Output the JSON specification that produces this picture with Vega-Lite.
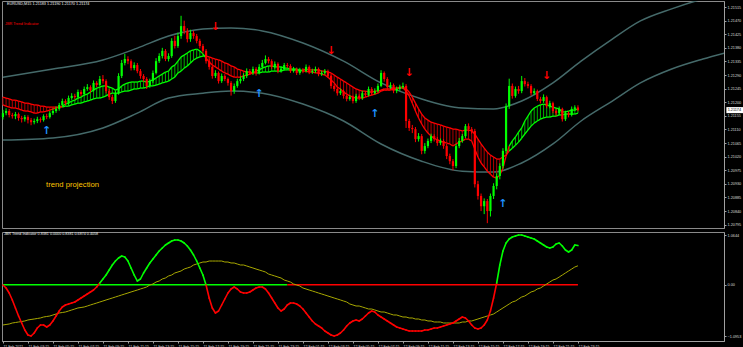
{
"$schema":"https://vega.github.io/schema/vega-lite/v6.json",
"background":"#000000",
"padding":0,
"spacing":2,
"config":{
 "view":{"stroke":"#8a8a8a","strokeWidth":1},
 "axis":{"grid":false,"labelColor":"#d8d8d8","labelFont":"Liberation Sans","labelFontSize":3.8,"labelOverlap":false,"labelFlush":false,"labelBound":false,"tickColor":"#a0a0a0","tickSize":2,"labelPadding":1,"domainColor":"#a0a0a0","domainWidth":1},
 "text":{"font":"Liberation Sans"}
},
"datasets":{
"bars":[
{"i":0,"o":1.21151,"h":1.21175,"l":1.21143,"c":1.21164,"a":1.21191,"b":1.21217,"v":-0.0047,"s":-0.86,"u":0},
{"i":1,"o":1.21164,"h":1.2118,"l":1.21157,"c":1.21171,"a":1.21187,"b":1.21214,"v":-0.0689,"s":-0.849,"u":0},
{"i":2,"o":1.21171,"h":1.21178,"l":1.2115,"c":1.21158,"a":1.21184,"b":1.21211,"v":-0.1758,"s":-0.839,"u":0},
{"i":3,"o":1.21158,"h":1.21165,"l":1.21146,"c":1.21154,"a":1.21181,"b":1.21207,"v":-0.3254,"s":-0.817,"u":0},
{"i":4,"o":1.21154,"h":1.21168,"l":1.21144,"c":1.21161,"a":1.21181,"b":1.21207,"v":-0.4965,"s":-0.807,"u":0},
{"i":5,"o":1.21161,"h":1.21166,"l":1.21139,"c":1.21148,"a":1.21178,"b":1.21204,"v":-0.6676,"s":-0.796,"u":0},
{"i":6,"o":1.21148,"h":1.21155,"l":1.21133,"c":1.21144,"a":1.21174,"b":1.21201,"v":-0.8173,"s":-0.785,"u":0},
{"i":7,"o":1.21144,"h":1.21158,"l":1.21136,"c":1.21151,"a":1.21171,"b":1.21197,"v":-0.9669,"s":-0.774,"u":0},
{"i":8,"o":1.21151,"h":1.21157,"l":1.2113,"c":1.21141,"a":1.21171,"b":1.21197,"v":-1.0739,"s":-0.753,"u":0},
{"i":9,"o":1.21141,"h":1.21148,"l":1.21124,"c":1.21134,"a":1.21168,"b":1.21194,"v":-1.0953,"s":-0.742,"u":0},
{"i":10,"o":1.21134,"h":1.21146,"l":1.21127,"c":1.21138,"a":1.21164,"b":1.21191,"v":-1.0311,"s":-0.732,"u":0},
{"i":11,"o":1.21138,"h":1.21152,"l":1.21131,"c":1.21144,"a":1.21164,"b":1.21191,"v":-0.9242,"s":-0.721,"u":0},
{"i":12,"o":1.21144,"h":1.2115,"l":1.21133,"c":1.21141,"a":1.21168,"b":1.21187,"v":-0.86,"s":-0.71,"u":0},
{"i":13,"o":1.21141,"h":1.2116,"l":1.21136,"c":1.21154,"a":1.21168,"b":1.21187,"v":-0.86,"s":-0.689,"u":0},
{"i":14,"o":1.21154,"h":1.21162,"l":1.21144,"c":1.21151,"a":1.21171,"b":1.21184,"v":-0.9028,"s":-0.678,"u":0},
{"i":15,"o":1.21151,"h":1.21171,"l":1.21146,"c":1.21164,"a":1.21174,"b":1.21184,"v":-0.86,"s":-0.668,"u":0},
{"i":16,"o":1.21164,"h":1.21179,"l":1.21158,"c":1.21171,"a":1.21178,"b":1.21184,"v":-0.7745,"s":-0.646,"u":0},
{"i":17,"o":1.21171,"h":1.21186,"l":1.21165,"c":1.21178,"a":1.21181,"b":1.21184,"v":-0.6676,"s":-0.625,"u":0},
{"i":18,"o":1.21178,"h":1.21198,"l":1.21172,"c":1.21191,"a":1.21184,"b":1.21184,"v":-0.5607,"s":-0.603,"u":0},
{"i":19,"o":1.21191,"h":1.21212,"l":1.21185,"c":1.21204,"a":1.21187,"b":1.21184,"v":-0.4751,"s":-0.593,"u":0},
{"i":20,"o":1.21204,"h":1.2121,"l":1.2119,"c":1.21197,"a":1.21194,"b":1.21187,"v":-0.4324,"s":-0.582,"u":0},
{"i":21,"o":1.21197,"h":1.21222,"l":1.21192,"c":1.21214,"a":1.21197,"b":1.21187,"v":-0.411,"s":-0.561,"u":0},
{"i":22,"o":1.21214,"h":1.2123,"l":1.21208,"c":1.21221,"a":1.21204,"b":1.21191,"v":-0.3896,"s":-0.539,"u":0},
{"i":23,"o":1.21221,"h":1.21228,"l":1.2121,"c":1.21217,"a":1.21207,"b":1.21194,"v":-0.3682,"s":-0.518,"u":0},
{"i":24,"o":1.21217,"h":1.21242,"l":1.21212,"c":1.21234,"a":1.21214,"b":1.21197,"v":-0.3254,"s":-0.496,"u":0},
{"i":25,"o":1.21234,"h":1.2124,"l":1.2122,"c":1.21227,"a":1.21217,"b":1.21197,"v":-0.2827,"s":-0.486,"u":0},
{"i":26,"o":1.21227,"h":1.21252,"l":1.21222,"c":1.21244,"a":1.21224,"b":1.21201,"v":-0.2399,"s":-0.475,"u":0},
{"i":27,"o":1.21244,"h":1.2126,"l":1.21238,"c":1.2125,"a":1.21227,"b":1.21204,"v":-0.1972,"s":-0.454,"u":0},
{"i":28,"o":1.2125,"h":1.21256,"l":1.21232,"c":1.2124,"a":1.21234,"b":1.21207,"v":-0.1544,"s":-0.432,"u":0},
{"i":29,"o":1.2124,"h":1.21272,"l":1.21236,"c":1.21264,"a":1.2124,"b":1.21211,"v":-0.1116,"s":-0.411,"u":0},
{"i":30,"o":1.21264,"h":1.2127,"l":1.2125,"c":1.21257,"a":1.21247,"b":1.21214,"v":-0.0475,"s":-0.39,"u":0},
{"i":31,"o":1.21257,"h":1.21287,"l":1.21252,"c":1.21277,"a":1.2125,"b":1.21214,"v":0.0381,"s":-0.368,"u":1},
{"i":32,"o":1.21277,"h":1.2129,"l":1.21262,"c":1.2127,"a":1.21254,"b":1.21217,"v":0.1236,"s":-0.347,"u":1},
{"i":33,"o":1.2127,"h":1.21276,"l":1.2123,"c":1.21237,"a":1.21254,"b":1.21221,"v":0.2091,"s":-0.325,"u":1},
{"i":34,"o":1.21237,"h":1.21244,"l":1.21208,"c":1.21217,"a":1.2125,"b":1.21227,"v":0.316,"s":-0.304,"u":1},
{"i":35,"o":1.21217,"h":1.21225,"l":1.21194,"c":1.21204,"a":1.21247,"b":1.2123,"v":0.423,"s":-0.283,"u":1},
{"i":36,"o":1.21204,"h":1.21238,"l":1.21198,"c":1.2123,"a":1.2124,"b":1.2123,"v":0.5085,"s":-0.261,"u":1},
{"i":37,"o":1.2123,"h":1.21296,"l":1.21225,"c":1.21287,"a":1.21244,"b":1.2123,"v":0.5726,"s":-0.24,"u":1},
{"i":38,"o":1.21287,"h":1.2134,"l":1.2128,"c":1.2133,"a":1.21254,"b":1.21234,"v":0.6154,"s":-0.218,"u":1},
{"i":39,"o":1.2133,"h":1.2136,"l":1.21322,"c":1.21343,"a":1.2126,"b":1.21237,"v":0.594,"s":-0.197,"u":1},
{"i":40,"o":1.21343,"h":1.21352,"l":1.21326,"c":1.21336,"a":1.21264,"b":1.21237,"v":0.5085,"s":-0.176,"u":1},
{"i":41,"o":1.21336,"h":1.21342,"l":1.21305,"c":1.21313,"a":1.21267,"b":1.2124,"v":0.3588,"s":-0.154,"u":1},
{"i":42,"o":1.21313,"h":1.21332,"l":1.21306,"c":1.21323,"a":1.21267,"b":1.21244,"v":0.2091,"s":-0.133,"u":1},
{"i":43,"o":1.21323,"h":1.2133,"l":1.21296,"c":1.21303,"a":1.21267,"b":1.21244,"v":0.0808,"s":-0.112,"u":1},
{"i":44,"o":1.21303,"h":1.2131,"l":1.21278,"c":1.21287,"a":1.2127,"b":1.21247,"v":0.1236,"s":-0.09,"u":1},
{"i":45,"o":1.21287,"h":1.21293,"l":1.21268,"c":1.21277,"a":1.2127,"b":1.21247,"v":0.2519,"s":-0.069,"u":1},
{"i":46,"o":1.21277,"h":1.21283,"l":1.21244,"c":1.21254,"a":1.21267,"b":1.2125,"v":0.3588,"s":-0.047,"u":1},
{"i":47,"o":1.21254,"h":1.21278,"l":1.21248,"c":1.2127,"a":1.2127,"b":1.21254,"v":0.4657,"s":-0.005,"u":1},
{"i":48,"o":1.2127,"h":1.21305,"l":1.21264,"c":1.21297,"a":1.21274,"b":1.21254,"v":0.5512,"s":0.017,"u":1},
{"i":49,"o":1.21297,"h":1.21346,"l":1.21292,"c":1.21336,"a":1.2128,"b":1.21257,"v":0.6368,"s":0.059,"u":1},
{"i":50,"o":1.21336,"h":1.21362,"l":1.2133,"c":1.21353,"a":1.21287,"b":1.2126,"v":0.7223,"s":0.081,"u":1},
{"i":51,"o":1.21353,"h":1.2138,"l":1.21345,"c":1.2137,"a":1.21293,"b":1.21264,"v":0.7865,"s":0.124,"u":1},
{"i":52,"o":1.2137,"h":1.21376,"l":1.21336,"c":1.21343,"a":1.213,"b":1.21267,"v":0.8506,"s":0.145,"u":1},
{"i":53,"o":1.21343,"h":1.21362,"l":1.21335,"c":1.21353,"a":1.21303,"b":1.2127,"v":0.8934,"s":0.188,"u":1},
{"i":54,"o":1.21353,"h":1.21412,"l":1.21347,"c":1.21403,"a":1.21317,"b":1.21277,"v":0.9361,"s":0.209,"u":1},
{"i":55,"o":1.21403,"h":1.2142,"l":1.21378,"c":1.21386,"a":1.21323,"b":1.21283,"v":0.9575,"s":0.252,"u":1},
{"i":56,"o":1.21386,"h":1.2143,"l":1.2138,"c":1.21419,"a":1.21336,"b":1.21297,"v":0.9575,"s":0.273,"u":1},
{"i":57,"o":1.21419,"h":1.21486,"l":1.2141,"c":1.21452,"a":1.2135,"b":1.21303,"v":0.9361,"s":0.295,"u":1},
{"i":58,"o":1.21452,"h":1.2147,"l":1.21425,"c":1.21436,"a":1.21356,"b":1.21313,"v":0.8934,"s":0.337,"u":1},
{"i":59,"o":1.21436,"h":1.21445,"l":1.21398,"c":1.21409,"a":1.21363,"b":1.2132,"v":0.8292,"s":0.359,"u":1},
{"i":60,"o":1.21409,"h":1.2144,"l":1.214,"c":1.21429,"a":1.2137,"b":1.2133,"v":0.7437,"s":0.38,"u":1},
{"i":61,"o":1.21429,"h":1.21436,"l":1.2141,"c":1.21419,"a":1.21373,"b":1.2134,"v":0.6368,"s":0.423,"u":1},
{"i":62,"o":1.21419,"h":1.21426,"l":1.21395,"c":1.21403,"a":1.21376,"b":1.21346,"v":0.5085,"s":0.444,"u":1},
{"i":63,"o":1.21403,"h":1.2141,"l":1.21378,"c":1.21386,"a":1.2137,"b":1.2135,"v":0.3588,"s":0.466,"u":1},
{"i":64,"o":1.21386,"h":1.21393,"l":1.21362,"c":1.2137,"a":1.2136,"b":1.21353,"v":0.2091,"s":0.487,"u":1},
{"i":65,"o":1.2137,"h":1.21376,"l":1.21328,"c":1.21336,"a":1.21346,"b":1.21353,"v":-0.0047,"s":0.487,"u":0},
{"i":66,"o":1.21336,"h":1.21345,"l":1.21308,"c":1.21317,"a":1.21333,"b":1.2135,"v":-0.2827,"s":0.508,"u":0},
{"i":67,"o":1.21317,"h":1.21322,"l":1.21278,"c":1.21287,"a":1.21323,"b":1.21346,"v":-0.4965,"s":0.508,"u":0},
{"i":68,"o":1.21287,"h":1.21306,"l":1.2128,"c":1.21297,"a":1.21317,"b":1.21343,"v":-0.6034,"s":0.508,"u":0},
{"i":69,"o":1.21297,"h":1.21302,"l":1.21262,"c":1.2127,"a":1.2131,"b":1.2134,"v":-0.5607,"s":0.508,"u":0},
{"i":70,"o":1.2127,"h":1.21295,"l":1.21264,"c":1.21287,"a":1.21303,"b":1.21336,"v":-0.4324,"s":0.508,"u":0},
{"i":71,"o":1.21287,"h":1.21293,"l":1.2127,"c":1.21277,"a":1.21297,"b":1.2133,"v":-0.3041,"s":0.487,"u":0},
{"i":72,"o":1.21277,"h":1.21282,"l":1.21255,"c":1.21264,"a":1.21293,"b":1.21327,"v":-0.1758,"s":0.487,"u":0},
{"i":73,"o":1.21264,"h":1.2127,"l":1.21222,"c":1.21237,"a":1.21287,"b":1.2132,"v":-0.0902,"s":0.466,"u":0},
{"i":74,"o":1.21237,"h":1.21262,"l":1.21228,"c":1.21254,"a":1.21283,"b":1.21317,"v":-0.0475,"s":0.466,"u":0},
{"i":75,"o":1.21254,"h":1.21278,"l":1.21248,"c":1.2127,"a":1.21283,"b":1.2131,"v":-0.0902,"s":0.444,"u":0},
{"i":76,"o":1.2127,"h":1.21286,"l":1.21262,"c":1.21277,"a":1.21283,"b":1.21307,"v":-0.1544,"s":0.423,"u":0},
{"i":77,"o":1.21277,"h":1.21296,"l":1.2127,"c":1.21287,"a":1.21287,"b":1.21303,"v":-0.1758,"s":0.423,"u":0},
{"i":78,"o":1.21287,"h":1.21312,"l":1.2128,"c":1.21303,"a":1.2129,"b":1.213,"v":-0.1758,"s":0.402,"u":0},
{"i":79,"o":1.21303,"h":1.2131,"l":1.2129,"c":1.21297,"a":1.21293,"b":1.213,"v":-0.1544,"s":0.38,"u":0},
{"i":80,"o":1.21297,"h":1.21318,"l":1.2129,"c":1.2131,"a":1.21297,"b":1.21297,"v":-0.1116,"s":0.359,"u":0},
{"i":81,"o":1.2131,"h":1.21316,"l":1.21288,"c":1.21297,"a":1.21303,"b":1.21297,"v":-0.0689,"s":0.337,"u":0},
{"i":82,"o":1.21297,"h":1.21326,"l":1.21292,"c":1.21317,"a":1.21307,"b":1.21297,"v":-0.0475,"s":0.316,"u":0},
{"i":83,"o":1.21317,"h":1.2134,"l":1.21312,"c":1.2133,"a":1.21313,"b":1.213,"v":-0.0475,"s":0.295,"u":0},
{"i":84,"o":1.2133,"h":1.21355,"l":1.21325,"c":1.21343,"a":1.21317,"b":1.213,"v":-0.0902,"s":0.273,"u":0},
{"i":85,"o":1.21343,"h":1.2135,"l":1.21328,"c":1.21336,"a":1.2132,"b":1.213,"v":-0.1758,"s":0.23,"u":0},
{"i":86,"o":1.21336,"h":1.21342,"l":1.2131,"c":1.21317,"a":1.2132,"b":1.21303,"v":-0.2827,"s":0.209,"u":0},
{"i":87,"o":1.21317,"h":1.21335,"l":1.21311,"c":1.21327,"a":1.21317,"b":1.21303,"v":-0.3896,"s":0.188,"u":0},
{"i":88,"o":1.21327,"h":1.21332,"l":1.21296,"c":1.21303,"a":1.21317,"b":1.21303,"v":-0.4965,"s":0.166,"u":0},
{"i":89,"o":1.21303,"h":1.21318,"l":1.21298,"c":1.2131,"a":1.21317,"b":1.21303,"v":-0.5607,"s":0.145,"u":0},
{"i":90,"o":1.2131,"h":1.2133,"l":1.21305,"c":1.21323,"a":1.21313,"b":1.21307,"v":-0.5179,"s":0.102,"u":0},
{"i":91,"o":1.21323,"h":1.2133,"l":1.21313,"c":1.2132,"a":1.21313,"b":1.21307,"v":-0.4324,"s":0.081,"u":0},
{"i":92,"o":1.2132,"h":1.21326,"l":1.21297,"c":1.21303,"a":1.2131,"b":1.21307,"v":-0.3896,"s":0.059,"u":0},
{"i":93,"o":1.21303,"h":1.21317,"l":1.21298,"c":1.2131,"a":1.2131,"b":1.21307,"v":-0.3896,"s":0.017,"u":0},
{"i":94,"o":1.2131,"h":1.21315,"l":1.2129,"c":1.21297,"a":1.2131,"b":1.21307,"v":-0.411,"s":-0.005,"u":0},
{"i":95,"o":1.21297,"h":1.21314,"l":1.21291,"c":1.21307,"a":1.21307,"b":1.21303,"v":-0.4537,"s":-0.026,"u":0},
{"i":96,"o":1.21307,"h":1.21313,"l":1.21296,"c":1.21303,"a":1.21303,"b":1.21307,"v":-0.5179,"s":-0.069,"u":0},
{"i":97,"o":1.21303,"h":1.21325,"l":1.21298,"c":1.21317,"a":1.21303,"b":1.2131,"v":-0.6034,"s":-0.09,"u":0},
{"i":98,"o":1.21317,"h":1.21322,"l":1.21293,"c":1.213,"a":1.213,"b":1.21307,"v":-0.689,"s":-0.112,"u":0},
{"i":99,"o":1.213,"h":1.21311,"l":1.21294,"c":1.21303,"a":1.213,"b":1.21307,"v":-0.7745,"s":-0.133,"u":0},
{"i":100,"o":1.21303,"h":1.21318,"l":1.21297,"c":1.2131,"a":1.21297,"b":1.21307,"v":-0.8386,"s":-0.154,"u":0},
{"i":101,"o":1.2131,"h":1.21315,"l":1.21286,"c":1.21293,"a":1.21297,"b":1.21307,"v":-0.8814,"s":-0.176,"u":0},
{"i":102,"o":1.21293,"h":1.21305,"l":1.21287,"c":1.21297,"a":1.21293,"b":1.21303,"v":-0.9242,"s":-0.197,"u":0},
{"i":103,"o":1.21297,"h":1.2131,"l":1.21291,"c":1.21303,"a":1.2129,"b":1.21303,"v":-0.9883,"s":-0.218,"u":0},
{"i":104,"o":1.21303,"h":1.21308,"l":1.2128,"c":1.21287,"a":1.21283,"b":1.213,"v":-1.0311,"s":-0.24,"u":0},
{"i":105,"o":1.21287,"h":1.21292,"l":1.21245,"c":1.21254,"a":1.21274,"b":1.21297,"v":-1.0739,"s":-0.261,"u":0},
{"i":106,"o":1.21254,"h":1.2126,"l":1.21236,"c":1.21244,"a":1.21264,"b":1.2129,"v":-1.0953,"s":-0.283,"u":0},
{"i":107,"o":1.21244,"h":1.2125,"l":1.21222,"c":1.2123,"a":1.2125,"b":1.21283,"v":-1.0739,"s":-0.304,"u":0},
{"i":108,"o":1.2123,"h":1.21245,"l":1.21224,"c":1.21237,"a":1.21244,"b":1.21277,"v":-1.0311,"s":-0.325,"u":0},
{"i":109,"o":1.21237,"h":1.21242,"l":1.21212,"c":1.21221,"a":1.21234,"b":1.2127,"v":-0.9669,"s":-0.347,"u":0},
{"i":110,"o":1.21221,"h":1.21226,"l":1.21203,"c":1.21211,"a":1.21227,"b":1.21264,"v":-0.8814,"s":-0.368,"u":0},
{"i":111,"o":1.21211,"h":1.21224,"l":1.21205,"c":1.21217,"a":1.21221,"b":1.21257,"v":-0.8173,"s":-0.411,"u":0},
{"i":112,"o":1.21217,"h":1.21222,"l":1.21196,"c":1.21204,"a":1.21217,"b":1.2125,"v":-0.7745,"s":-0.432,"u":0},
{"i":113,"o":1.21204,"h":1.21228,"l":1.21198,"c":1.21221,"a":1.21214,"b":1.21244,"v":-0.7531,"s":-0.454,"u":0},
{"i":114,"o":1.21221,"h":1.21226,"l":1.21207,"c":1.21214,"a":1.21214,"b":1.2124,"v":-0.7745,"s":-0.454,"u":0},
{"i":115,"o":1.21214,"h":1.21238,"l":1.21208,"c":1.2123,"a":1.21214,"b":1.21237,"v":-0.7317,"s":-0.475,"u":0},
{"i":116,"o":1.2123,"h":1.21236,"l":1.21218,"c":1.21224,"a":1.21217,"b":1.21237,"v":-0.6676,"s":-0.496,"u":0},
{"i":117,"o":1.21224,"h":1.21252,"l":1.21219,"c":1.21244,"a":1.21221,"b":1.21234,"v":-0.6034,"s":-0.518,"u":0},
{"i":118,"o":1.21244,"h":1.2125,"l":1.21222,"c":1.2123,"a":1.21224,"b":1.21234,"v":-0.5607,"s":-0.518,"u":0},
{"i":119,"o":1.2123,"h":1.21246,"l":1.21225,"c":1.21237,"a":1.21227,"b":1.21237,"v":-0.582,"s":-0.539,"u":0},
{"i":120,"o":1.21237,"h":1.21262,"l":1.21232,"c":1.21254,"a":1.2123,"b":1.21237,"v":-0.6462,"s":-0.561,"u":0},
{"i":121,"o":1.21254,"h":1.21306,"l":1.2125,"c":1.21297,"a":1.21237,"b":1.2124,"v":-0.689,"s":-0.582,"u":0},
{"i":122,"o":1.21297,"h":1.21302,"l":1.21268,"c":1.21277,"a":1.2124,"b":1.21244,"v":-0.7317,"s":-0.582,"u":0},
{"i":123,"o":1.21277,"h":1.21283,"l":1.21242,"c":1.2125,"a":1.2124,"b":1.21244,"v":-0.7745,"s":-0.603,"u":0},
{"i":124,"o":1.2125,"h":1.21266,"l":1.21244,"c":1.21257,"a":1.2124,"b":1.21244,"v":-0.8173,"s":-0.625,"u":0},
{"i":125,"o":1.21257,"h":1.21262,"l":1.2123,"c":1.21237,"a":1.21244,"b":1.21247,"v":-0.86,"s":-0.646,"u":0},
{"i":126,"o":1.21237,"h":1.21252,"l":1.2123,"c":1.21244,"a":1.21244,"b":1.21247,"v":-0.9028,"s":-0.646,"u":0},
{"i":127,"o":1.21244,"h":1.21258,"l":1.21238,"c":1.2125,"a":1.21247,"b":1.2125,"v":-0.9242,"s":-0.668,"u":0},
{"i":128,"o":1.2125,"h":1.21265,"l":1.21244,"c":1.21254,"a":1.21247,"b":1.2125,"v":-0.9456,"s":-0.689,"u":0},
{"i":129,"o":1.21254,"h":1.2126,"l":1.21115,"c":1.21138,"a":1.21237,"b":1.21244,"v":-0.9669,"s":-0.689,"u":0},
{"i":130,"o":1.21138,"h":1.21145,"l":1.21105,"c":1.21115,"a":1.21221,"b":1.21234,"v":-0.9883,"s":-0.71,"u":0},
{"i":131,"o":1.21115,"h":1.21125,"l":1.21098,"c":1.21111,"a":1.21197,"b":1.21217,"v":-0.9883,"s":-0.71,"u":0},
{"i":132,"o":1.21111,"h":1.21118,"l":1.21068,"c":1.21078,"a":1.21171,"b":1.21197,"v":-0.9883,"s":-0.732,"u":0},
{"i":133,"o":1.21078,"h":1.21098,"l":1.2107,"c":1.21088,"a":1.21148,"b":1.21178,"v":-0.9883,"s":-0.732,"u":0},
{"i":134,"o":1.21088,"h":1.21095,"l":1.21028,"c":1.21039,"a":1.21128,"b":1.21161,"v":-0.9883,"s":-0.753,"u":0},
{"i":135,"o":1.21039,"h":1.21065,"l":1.2103,"c":1.21055,"a":1.21111,"b":1.21148,"v":-0.9669,"s":-0.753,"u":0},
{"i":136,"o":1.21055,"h":1.2108,"l":1.21048,"c":1.21072,"a":1.21098,"b":1.21141,"v":-0.9669,"s":-0.774,"u":0},
{"i":137,"o":1.21072,"h":1.21096,"l":1.21065,"c":1.21088,"a":1.21088,"b":1.21134,"v":-0.9456,"s":-0.774,"u":0},
{"i":138,"o":1.21088,"h":1.21094,"l":1.2107,"c":1.21078,"a":1.21081,"b":1.21131,"v":-0.9242,"s":-0.796,"u":0},
{"i":139,"o":1.21078,"h":1.21085,"l":1.21056,"c":1.21065,"a":1.21075,"b":1.21128,"v":-0.9242,"s":-0.796,"u":0},
{"i":140,"o":1.21065,"h":1.2108,"l":1.21058,"c":1.21072,"a":1.21072,"b":1.21125,"v":-0.9028,"s":-0.796,"u":0},
{"i":141,"o":1.21072,"h":1.21078,"l":1.21046,"c":1.21055,"a":1.21068,"b":1.21121,"v":-0.8814,"s":-0.817,"u":0},
{"i":142,"o":1.21055,"h":1.21062,"l":1.21012,"c":1.21022,"a":1.21065,"b":1.21118,"v":-0.86,"s":-0.817,"u":0},
{"i":143,"o":1.21022,"h":1.2103,"l":1.20995,"c":1.21005,"a":1.21062,"b":1.21115,"v":-0.8386,"s":-0.817,"u":0},
{"i":144,"o":1.21005,"h":1.21012,"l":1.20975,"c":1.20989,"a":1.21055,"b":1.21111,"v":-0.8173,"s":-0.817,"u":0},
{"i":145,"o":1.20989,"h":1.21062,"l":1.20982,"c":1.21055,"a":1.21062,"b":1.21111,"v":-0.7745,"s":-0.817,"u":0},
{"i":146,"o":1.21055,"h":1.21082,"l":1.21048,"c":1.21072,"a":1.21068,"b":1.21108,"v":-0.7317,"s":-0.817,"u":0},
{"i":147,"o":1.21072,"h":1.21095,"l":1.21066,"c":1.21088,"a":1.21072,"b":1.21105,"v":-0.689,"s":-0.796,"u":0},
{"i":148,"o":1.21088,"h":1.21128,"l":1.21082,"c":1.21121,"a":1.21078,"b":1.21108,"v":-0.7103,"s":-0.796,"u":0},
{"i":149,"o":1.21121,"h":1.2113,"l":1.21103,"c":1.21111,"a":1.21078,"b":1.21108,"v":-0.7745,"s":-0.774,"u":0},
{"i":150,"o":1.21111,"h":1.21118,"l":1.21096,"c":1.21105,"a":1.21072,"b":1.21105,"v":-0.86,"s":-0.774,"u":0},
{"i":151,"o":1.21105,"h":1.21112,"l":1.20918,"c":1.20929,"a":1.21045,"b":1.21095,"v":-0.9242,"s":-0.753,"u":0},
{"i":152,"o":1.20929,"h":1.2094,"l":1.20878,"c":1.2089,"a":1.21019,"b":1.21078,"v":-0.9456,"s":-0.732,"u":0},
{"i":153,"o":1.2089,"h":1.20898,"l":1.2084,"c":1.20856,"a":1.20999,"b":1.21062,"v":-0.9242,"s":-0.71,"u":0},
{"i":154,"o":1.20856,"h":1.20882,"l":1.2083,"c":1.20873,"a":1.20986,"b":1.21048,"v":-0.86,"s":-0.689,"u":0},
{"i":155,"o":1.20873,"h":1.2088,"l":1.208,"c":1.2084,"a":1.20972,"b":1.21035,"v":-0.7531,"s":-0.668,"u":0},
{"i":156,"o":1.2084,"h":1.20898,"l":1.20822,"c":1.2089,"a":1.20962,"b":1.21025,"v":-0.5607,"s":-0.646,"u":0},
{"i":157,"o":1.2089,"h":1.20932,"l":1.2088,"c":1.20923,"a":1.20952,"b":1.21019,"v":-0.2827,"s":-0.625,"u":0},
{"i":158,"o":1.20923,"h":1.20965,"l":1.20912,"c":1.20956,"a":1.20949,"b":1.21012,"v":0.0381,"s":-0.582,"u":1},
{"i":159,"o":1.20956,"h":1.20998,"l":1.20945,"c":1.20989,"a":1.20959,"b":1.21012,"v":0.423,"s":-0.539,"u":1},
{"i":160,"o":1.20989,"h":1.21048,"l":1.2098,"c":1.21039,"a":1.20982,"b":1.21019,"v":0.7223,"s":-0.496,"u":1},
{"i":161,"o":1.21039,"h":1.21196,"l":1.2103,"c":1.21187,"a":1.21022,"b":1.21025,"v":0.8934,"s":-0.454,"u":1},
{"i":162,"o":1.21187,"h":1.21278,"l":1.21178,"c":1.21254,"a":1.21055,"b":1.21039,"v":0.9789,"s":-0.411,"u":1},
{"i":163,"o":1.21254,"h":1.21262,"l":1.21212,"c":1.21221,"a":1.21072,"b":1.21048,"v":1.0217,"s":-0.368,"u":1},
{"i":164,"o":1.21221,"h":1.21252,"l":1.21215,"c":1.21244,"a":1.21085,"b":1.21058,"v":1.0431,"s":-0.347,"u":1},
{"i":165,"o":1.21244,"h":1.21254,"l":1.21228,"c":1.21237,"a":1.21101,"b":1.21068,"v":1.0644,"s":-0.304,"u":1},
{"i":166,"o":1.21237,"h":1.21287,"l":1.2123,"c":1.2127,"a":1.21115,"b":1.21081,"v":1.0644,"s":-0.261,"u":1},
{"i":167,"o":1.2127,"h":1.2128,"l":1.21252,"c":1.2126,"a":1.21138,"b":1.21095,"v":1.0431,"s":-0.24,"u":1},
{"i":168,"o":1.2126,"h":1.21268,"l":1.21246,"c":1.21254,"a":1.21154,"b":1.21108,"v":1.0217,"s":-0.197,"u":1},
{"i":169,"o":1.21254,"h":1.2126,"l":1.21222,"c":1.2123,"a":1.21171,"b":1.21121,"v":1.0003,"s":-0.154,"u":1},
{"i":170,"o":1.2123,"h":1.21246,"l":1.21224,"c":1.21237,"a":1.21181,"b":1.21131,"v":0.9789,"s":-0.133,"u":1},
{"i":171,"o":1.21237,"h":1.21242,"l":1.21204,"c":1.21211,"a":1.21187,"b":1.21138,"v":0.9361,"s":-0.09,"u":1},
{"i":172,"o":1.21211,"h":1.21218,"l":1.21196,"c":1.21204,"a":1.21191,"b":1.21144,"v":0.8934,"s":-0.069,"u":1},
{"i":173,"o":1.21204,"h":1.21226,"l":1.21198,"c":1.21217,"a":1.21194,"b":1.21148,"v":0.8506,"s":-0.026,"u":1},
{"i":174,"o":1.21217,"h":1.21222,"l":1.2118,"c":1.21187,"a":1.21191,"b":1.21151,"v":0.8078,"s":0.017,"u":1},
{"i":175,"o":1.21187,"h":1.21205,"l":1.2118,"c":1.21197,"a":1.21187,"b":1.21151,"v":0.7865,"s":0.059,"u":1},
{"i":176,"o":1.21197,"h":1.21202,"l":1.21164,"c":1.21171,"a":1.21184,"b":1.21154,"v":0.8078,"s":0.102,"u":1},
{"i":177,"o":1.21171,"h":1.21178,"l":1.21155,"c":1.21164,"a":1.21181,"b":1.21154,"v":0.872,"s":0.124,"u":1},
{"i":178,"o":1.21164,"h":1.21186,"l":1.21158,"c":1.21178,"a":1.21178,"b":1.21158,"v":0.8934,"s":0.166,"u":1},
{"i":179,"o":1.21178,"h":1.21182,"l":1.21136,"c":1.21144,"a":1.21168,"b":1.21158,"v":0.8292,"s":0.209,"u":1},
{"i":180,"o":1.21144,"h":1.21172,"l":1.21138,"c":1.21164,"a":1.21168,"b":1.21161,"v":0.7437,"s":0.252,"u":1},
{"i":181,"o":1.21164,"h":1.2117,"l":1.2115,"c":1.21158,"a":1.21171,"b":1.21161,"v":0.7009,"s":0.295,"u":1},
{"i":182,"o":1.21158,"h":1.21186,"l":1.21153,"c":1.21178,"a":1.21174,"b":1.21161,"v":0.7437,"s":0.337,"u":1},
{"i":183,"o":1.21178,"h":1.2119,"l":1.21172,"c":1.21183,"a":1.21174,"b":1.21161,"v":0.8506,"s":0.38,"u":1},
{"i":184,"o":1.21183,"h":1.2119,"l":1.2117,"c":1.21174,"a":1.21178,"b":1.21164,"v":0.8381,"s":0.4058,"u":1}
],
"bands":[
{"i":0,"up":1.21283,"lo":1.21075},
{"i":16,"up":1.2131,"lo":1.21082},
{"i":32,"up":1.2134,"lo":1.21115},
{"i":43,"up":1.21379,"lo":1.21164},
{"i":53,"up":1.21419,"lo":1.21214},
{"i":64,"up":1.21442,"lo":1.2123},
{"i":73,"up":1.21446,"lo":1.21237},
{"i":83,"up":1.21436,"lo":1.2123},
{"i":96,"up":1.21396,"lo":1.21194},
{"i":109,"up":1.21336,"lo":1.21138},
{"i":121,"up":1.21264,"lo":1.21062},
{"i":134,"up":1.21211,"lo":1.21005},
{"i":147,"up":1.21181,"lo":1.20972},
{"i":157,"up":1.21178,"lo":1.20969},
{"i":166,"up":1.21204,"lo":1.20999},
{"i":176,"up":1.21264,"lo":1.21062},
{"i":185,"up":1.21336,"lo":1.21138},
{"i":195,"up":1.21409,"lo":1.21204},
{"i":204,"up":1.21469,"lo":1.21264},
{"i":214,"up":1.21509,"lo":1.2131},
{"i":224,"up":1.21542,"lo":1.21343},
{"i":231,"up":1.21561,"lo":1.21363}
],
"arrows":[
{"i":14,"p":1.21105,"d":"up"},
{"i":82,"p":1.21227,"d":"up"},
{"i":119,"p":1.21161,"d":"up"},
{"i":160,"p":1.20863,"d":"up"},
{"i":68,"p":1.21449,"d":"down"},
{"i":105,"p":1.2137,"d":"down"},
{"i":130,"p":1.21297,"d":"down"},
{"i":174,"p":1.21287,"d":"down"}
],
"lvl":[
{"i":0,"i2":91,"u":1},
{"i":91,"i2":184,"u":0}
]
},
"vconcat":[
{"width":722,"height":227,
 "layer":[
  {"data":{"name":"bands"},"mark":{"type":"line","interpolate":"monotone","clip":true,"color":"#456a6a","strokeWidth":1.5},
   "encoding":{
    "x":{"field":"i","type":"quantitative","scale":{"domain":[-0.3,230.74],"nice":false,"zero":false},"axis":null},
    "y":{"field":"up","type":"quantitative","title":null,"scale":{"domain":[1.20784,1.21535],"nice":false,"zero":false},
         "axis":{"orient":"right","format":".5f","title":null,"tickCount":100,"labelOverlap":false,"labelBound":false,"values":[1.20795,1.2084,1.20885,1.2093,1.20975,1.2102,1.21065,1.2111,1.21155,1.212,1.21245,1.2129,1.21335,1.2138,1.21425,1.2147,1.21515]}}}},
  {"data":{"name":"bands"},"mark":{"type":"line","interpolate":"monotone","clip":true,"color":"#456a6a","strokeWidth":1.5},
   "encoding":{"x":{"field":"i","type":"quantitative","axis":null},"y":{"field":"lo","type":"quantitative","title":null}}},
  {"data":{"name":"bars"},"mark":{"type":"rule","strokeWidth":1},
   "encoding":{"x":{"field":"i","type":"quantitative","axis":null},"y":{"field":"a","type":"quantitative","title":null},"y2":{"field":"b"},
    "color":{"condition":{"test":"datum.a > datum.b","value":"#00b400"},"value":"#b40000"}}},
  {"data":{"name":"bars"},
   "transform":[{"window":[{"op":"lead","field":"i","as":"i2"},{"op":"lead","field":"a","as":"a2"}],"sort":[{"field":"i"}]},{"filter":"datum.i2 != null"}],
   "mark":{"type":"rule","strokeWidth":1.3},
   "encoding":{"x":{"field":"i","type":"quantitative","axis":null},"x2":{"field":"i2"},"y":{"field":"a","type":"quantitative","title":null},"y2":{"field":"a2"},
    "color":{"condition":{"test":"datum.a > datum.b","value":"#00ff00"},"value":"#ff0000"}}},
  {"data":{"name":"bars"},
   "transform":[{"window":[{"op":"lead","field":"i","as":"i2"},{"op":"lead","field":"b","as":"b2"}],"sort":[{"field":"i"}]},{"filter":"datum.i2 != null"}],
   "mark":{"type":"rule","strokeWidth":1.3},
   "encoding":{"x":{"field":"i","type":"quantitative","axis":null},"x2":{"field":"i2"},"y":{"field":"b","type":"quantitative","title":null},"y2":{"field":"b2"},
    "color":{"condition":{"test":"datum.a > datum.b","value":"#00ff00"},"value":"#ff0000"}}},
  {"data":{"name":"bars"},"mark":{"type":"rule","strokeWidth":1},
   "encoding":{"x":{"field":"i","type":"quantitative","axis":null},"y":{"field":"l","type":"quantitative","title":null},"y2":{"field":"h"},
    "color":{"condition":{"test":"datum.c >= datum.o","value":"#00ff00"},"value":"#ff0000"}}},
  {"data":{"name":"bars"},"mark":{"type":"rule","strokeWidth":2.2},
   "encoding":{"x":{"field":"i","type":"quantitative","axis":null},"y":{"field":"o","type":"quantitative","title":null},"y2":{"field":"c"},
    "color":{"condition":{"test":"datum.c >= datum.o","value":"#00ff00"},"value":"#ff0000"}}},
  {"data":{"name":"arrows"},"mark":{"type":"text","font":"DejaVu Sans","fontWeight":"bold","fontSize":11,"align":"center","baseline":"middle"},
   "encoding":{"x":{"field":"i","type":"quantitative","axis":null},"y":{"field":"p","type":"quantitative","title":null},
    "text":{"condition":{"test":"datum.d == 'up'","value":"↑"},"value":"↓"},
    "color":{"condition":{"test":"datum.d == 'up'","value":"#1e90ff"},"value":"#ff0000"}}},
  {"data":{"values":[{"t":"EURUSD,M15  1.21183 1.21190 1.21170 1.21174"}]},"mark":{"type":"text","align":"left","baseline":"middle","fontSize":3.8,"color":"#f0f0f0"},
   "encoding":{"x":{"datum":1.3,"type":"quantitative","axis":null},"y":{"datum":1.21525,"type":"quantitative","title":null},"text":{"field":"t"}}},
  {"data":{"values":[{"t":"JBR Trend Indicator"}]},"mark":{"type":"text","align":"left","baseline":"middle","fontSize":3.8,"color":"#ff0000"},
   "encoding":{"x":{"datum":0.66,"type":"quantitative","axis":null},"y":{"datum":1.21459,"type":"quantitative","title":null},"text":{"field":"t"}}},
  {"data":{"values":[{"t":"trend projection"}]},"mark":{"type":"text","align":"left","baseline":"middle","fontSize":7.7,"color":"#ffc400"},
   "encoding":{"x":{"datum":13.8,"type":"quantitative","axis":null},"y":{"datum":1.20926,"type":"quantitative","title":null},"text":{"field":"t"}}},
  {"data":{"values":[{"p":1.21174}]},"mark":{"type":"rect","color":"#ffffff"},
   "encoding":{"x":{"datum":231.5,"type":"quantitative","axis":null},"x2":{"datum":237.6},"y":{"datum":1.21184,"type":"quantitative","title":null},"y2":{"datum":1.21164}}},
  {"data":{"values":[{"t":"1.21174"}]},"mark":{"type":"text","align":"left","baseline":"middle","fontSize":3.8,"color":"#000000"},
   "encoding":{"x":{"datum":231.9,"type":"quantitative","axis":null},"y":{"datum":1.21174,"type":"quantitative","title":null},"text":{"field":"t"}}}
 ]},
{"width":722,"height":109,
 "layer":[
  {"data":{"name":"lvl"},"mark":{"type":"rule","strokeWidth":1.6},
   "encoding":{
    "x":{"field":"i","type":"quantitative","title":null,"scale":{"domain":[-0.3,230.74],"nice":false,"zero":false},
         "axis":{"orient":"bottom","title":null,"tickCount":100,"labelOverlap":false,"labelBound":false,"labelFlush":false,"values":[0,8,16,24,32,40,48,56,64,72,80,88,96,104,112,120,128,136,144,152,160,168,176,184],"labelAlign":"left","labelBaseline":"top","labelFontSize":3.6,
          "labelExpr":"['11 Feb 2021','11 Feb 03:15','11 Feb 05:15','11 Feb 07:15','11 Feb 09:15','11 Feb 11:15','11 Feb 13:15','11 Feb 15:15','11 Feb 17:15','11 Feb 19:15','11 Feb 21:15','11 Feb 23:15','12 Feb 01:15','12 Feb 03:15','12 Feb 05:15','12 Feb 07:15','12 Feb 09:15','12 Feb 11:15','12 Feb 13:15','12 Feb 15:15','12 Feb 17:15','12 Feb 19:15','12 Feb 21:15','12 Feb 23:15'][round(datum.value/8)]"}},
    "x2":{"field":"i2"},
    "y":{"datum":0,"type":"quantitative","title":null,"scale":{"domain":[-1.2022,1.1286],"nice":false,"zero":false},
         "axis":{"orient":"right","title":null,"tickCount":100,"labelOverlap":false,"labelBound":false,"values":[-1.0953,0,1.0644],"labelExpr":"datum.value == 0 ? '0.00' : format(datum.value, '.4f')"}},
    "color":{"condition":{"test":"datum.u == 1","value":"#00ff00"},"value":"#ff0000"}}},
  {"data":{"name":"bars"},"mark":{"type":"line","color":"#a8a800","strokeWidth":1},
   "encoding":{"x":{"field":"i","type":"quantitative","title":null},"y":{"field":"s","type":"quantitative","title":null}}},
  {"data":{"name":"bars"},
   "transform":[{"window":[{"op":"lead","field":"i","as":"i2"},{"op":"lead","field":"v","as":"v2"}],"sort":[{"field":"i"}]},{"filter":"datum.i2 != null"}],
   "mark":{"type":"rule","strokeWidth":1.6,"strokeCap":"round"},
   "encoding":{"x":{"field":"i","type":"quantitative","title":null},"x2":{"field":"i2"},"y":{"field":"v","type":"quantitative","title":null},"y2":{"field":"v2"},
    "color":{"condition":{"test":"datum.u == 1","value":"#00ff00"},"value":"#ff0000"}}},
  {"data":{"values":[{"t":"JBR Trend Indicator 0.8381 0.0000 0.8381 0.6874 0.4058"}]},"mark":{"type":"text","align":"left","baseline":"middle","fontSize":3.7,"color":"#f0f0f0"},
   "encoding":{"x":{"datum":0.34,"type":"quantitative","title":null},"y":{"datum":1.0858,"type":"quantitative","title":null},"text":{"field":"t"}}}
 ]}
]
}
